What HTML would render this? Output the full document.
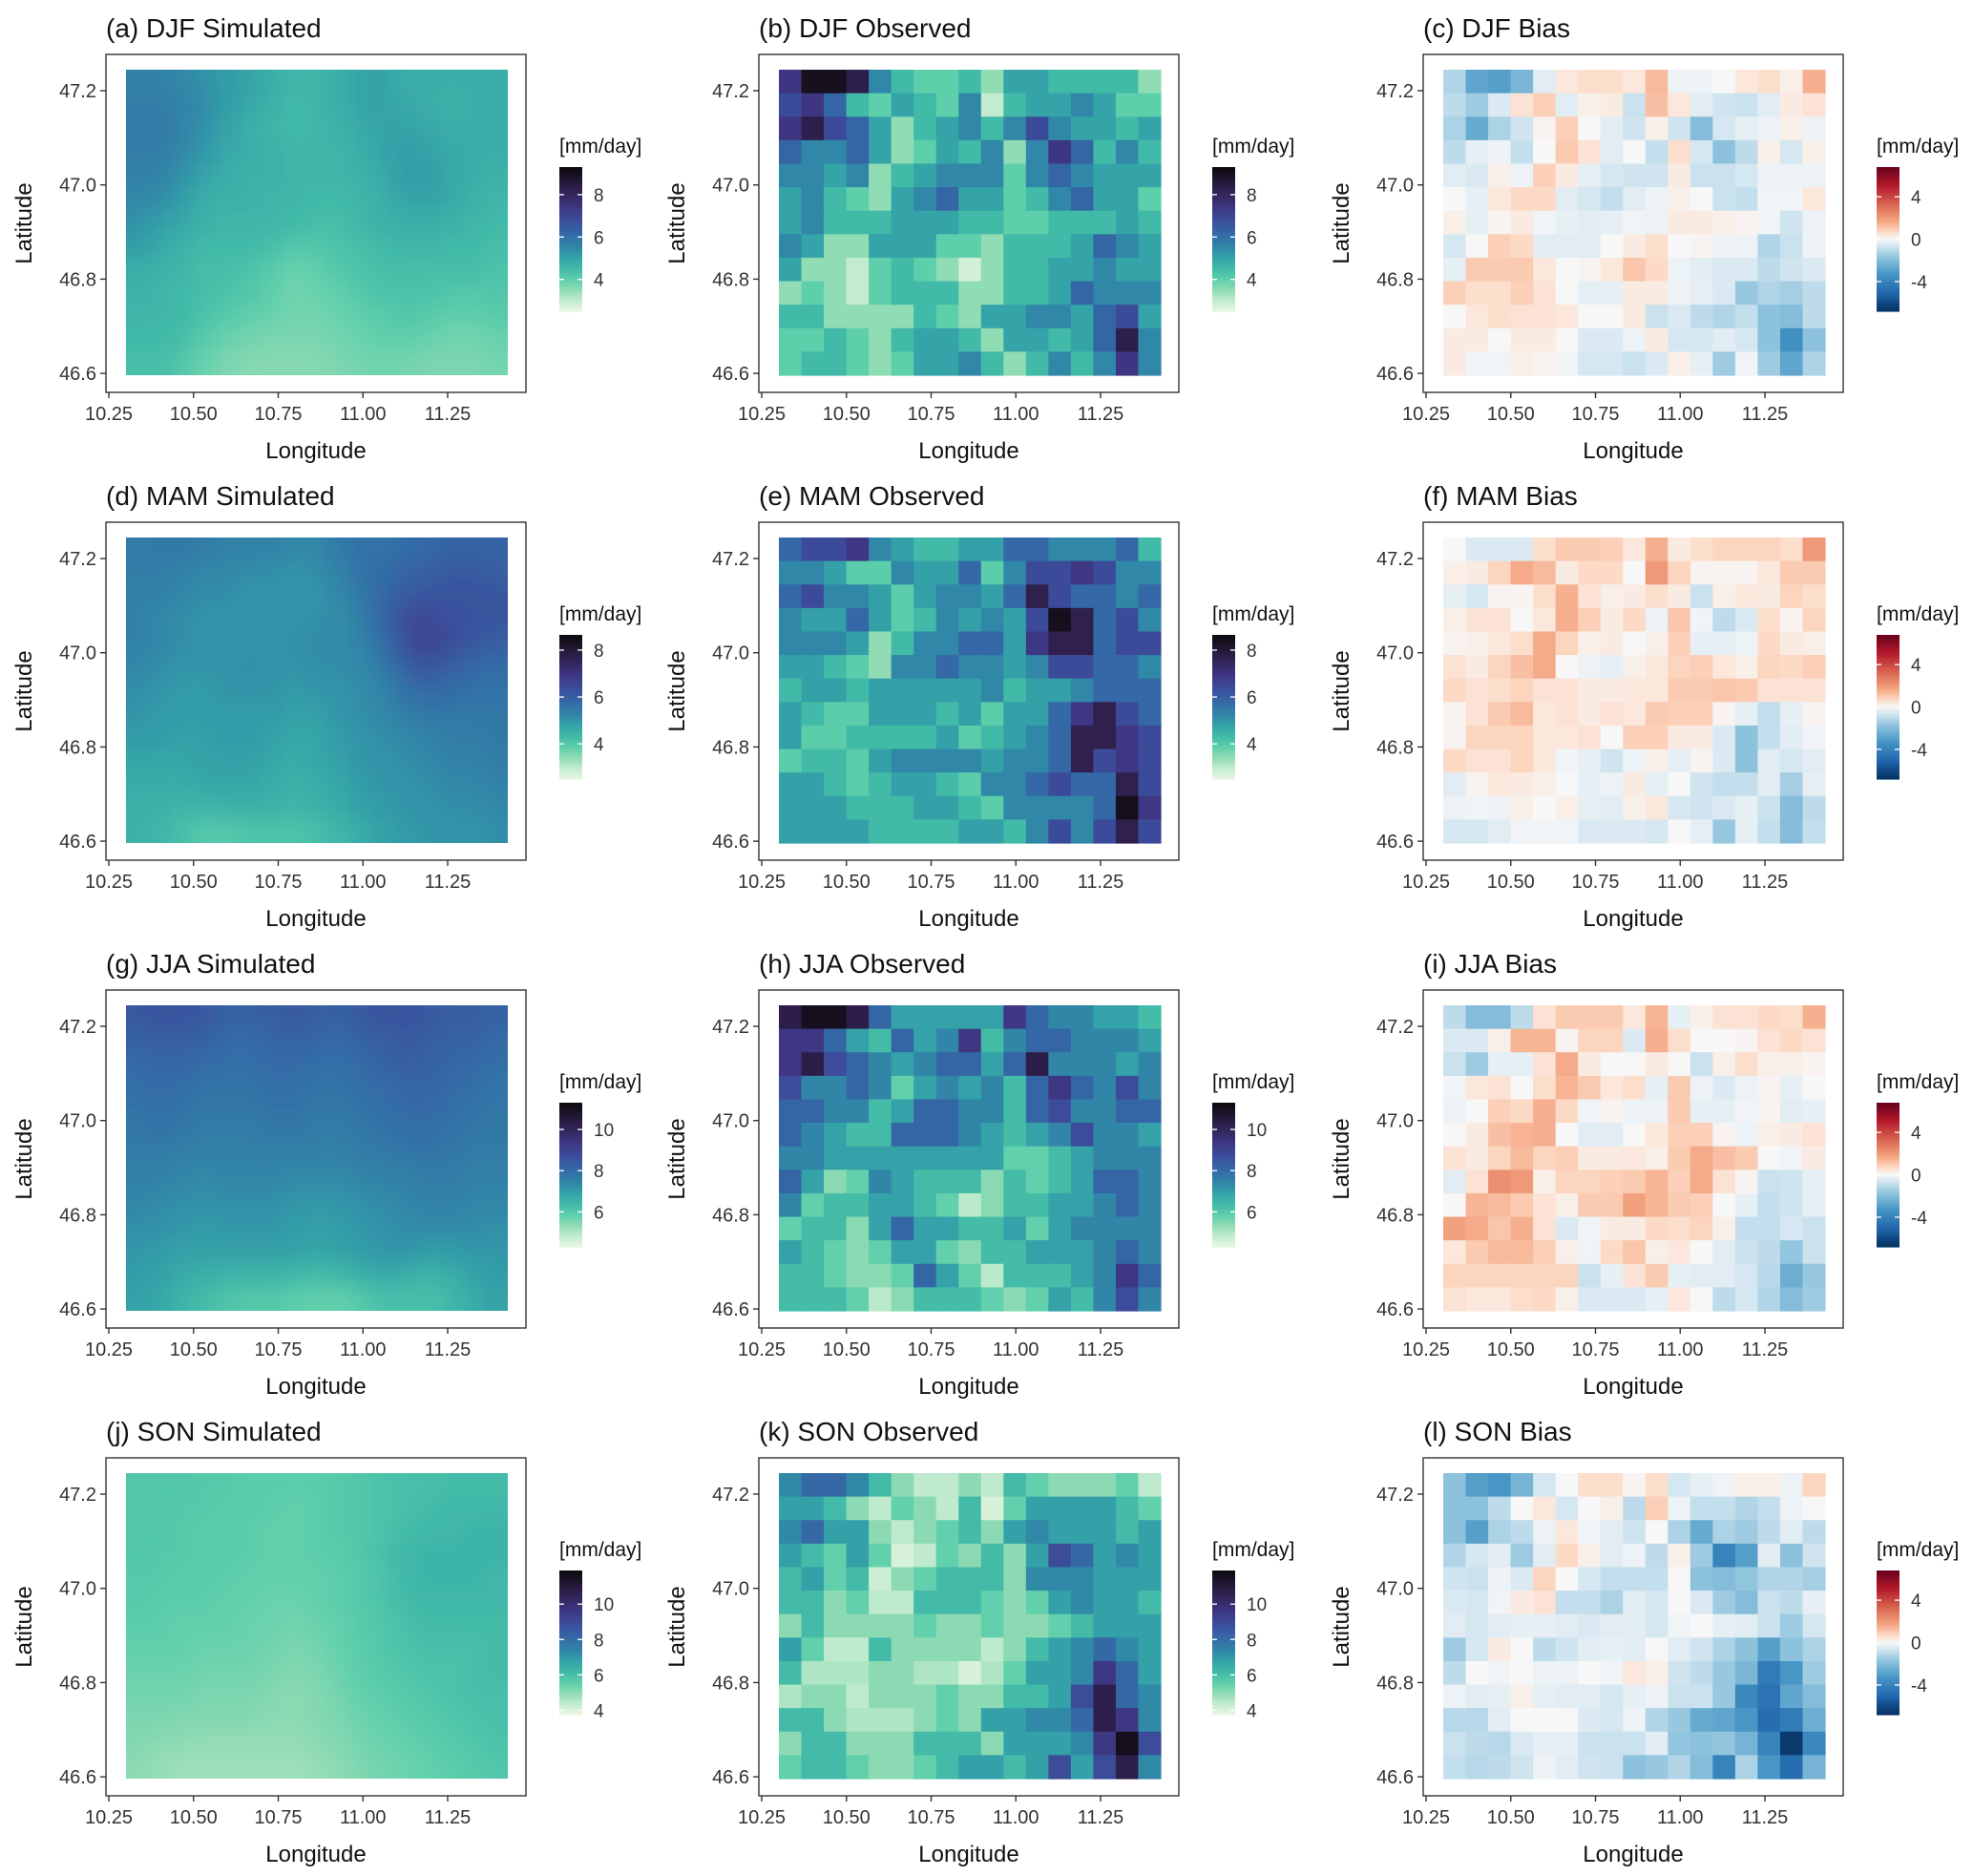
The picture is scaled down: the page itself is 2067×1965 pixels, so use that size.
<!DOCTYPE html>
<html><head><meta charset="utf-8">
<style>
html,body{margin:0;padding:0;background:#fff;}
svg{display:block;font-family:"Liberation Sans",Arial,sans-serif;}
</style></head>
<body>
<svg id="fig" width="2067" height="1965" viewBox="0 0 2067 1965" xmlns="http://www.w3.org/2000/svg">
<defs>
<filter id="smooth" x="-0.1" y="-0.1" width="1.2" height="1.2" filterUnits="objectBoundingBox"><feGaussianBlur stdDeviation="10"/></filter>
</defs>
</svg>
<script>
// ---------- data (mm/day), rows north->south, 17 columns west->east ----------
const lonTicks = [10.25, 10.50, 10.75, 11.00, 11.25];
const latTicks = [47.2, 47.0, 46.8, 46.6];
const seasons = ["DJF", "MAM", "JJA", "SON"];
const seqRanges = [[2.5, 9.3], [2.5, 8.65], [4.3, 11.3], [3.75, 11.9]];
const seqLegendTicks = [[4, 6, 8], [4, 6, 8], [6, 8, 10], [4, 6, 8, 10]];
const biasRange = [-6.8, 6.8];
const biasLegendTicks = [-4, 0, 4];
const panelLetters = [["a","b","c"],["d","e","f"],["g","h","i"],["j","k","l"]];

const simDJF = [
[5.6,5.6,5.5,5.3,5.1,5.0,4.8,4.6,4.6,4.8,5.0,5.0,4.8,4.8,4.8,4.8,4.8],
[5.7,5.7,5.6,5.4,5.1,4.9,4.7,4.5,4.6,4.8,5.0,5.0,4.9,4.8,4.7,4.8,4.8],
[5.8,5.8,5.6,5.3,5.0,4.8,4.6,4.5,4.6,4.7,4.9,5.0,5.0,4.9,4.8,4.8,4.8],
[5.7,5.7,5.5,5.2,4.9,4.8,4.7,4.6,4.6,4.6,4.8,5.0,5.1,5.0,4.9,4.8,4.8],
[5.6,5.6,5.3,5.0,4.8,4.7,4.7,4.6,4.6,4.6,4.7,4.9,5.1,5.1,4.9,4.8,4.7],
[5.5,5.4,5.1,4.8,4.7,4.7,4.6,4.6,4.5,4.5,4.6,4.8,5.0,5.0,4.9,4.7,4.6],
[5.3,5.1,4.9,4.7,4.6,4.6,4.6,4.5,4.4,4.4,4.6,4.7,4.8,4.8,4.7,4.6,4.5],
[5.1,4.9,4.7,4.5,4.5,4.5,4.4,4.2,4.2,4.3,4.4,4.5,4.6,4.6,4.5,4.5,4.4],
[4.8,4.7,4.6,4.4,4.4,4.3,4.1,3.9,4.0,4.2,4.3,4.4,4.4,4.4,4.4,4.4,4.3],
[4.7,4.6,4.5,4.4,4.3,4.2,4.0,3.8,3.9,4.0,4.2,4.3,4.3,4.3,4.2,4.2,4.2],
[4.6,4.6,4.5,4.3,4.1,4.0,3.9,3.8,3.8,3.9,4.0,4.1,4.2,4.1,4.0,4.0,4.1],
[4.5,4.5,4.4,4.1,3.9,3.8,3.7,3.7,3.7,3.8,3.9,4.0,4.0,3.9,3.8,3.8,3.9],
[4.4,4.4,4.2,3.9,3.7,3.6,3.6,3.6,3.6,3.7,3.8,3.8,3.8,3.7,3.7,3.7,3.8]];
const simMAM = [
[5.4,5.5,5.5,5.4,5.3,5.3,5.3,5.2,5.2,5.5,5.6,5.6,5.7,5.8,5.9,5.9,5.9],
[5.4,5.4,5.3,5.2,5.2,5.1,5.1,5.0,5.1,5.3,5.6,5.7,5.9,6.0,6.1,6.1,6.0],
[5.3,5.3,5.2,5.1,5.1,5.0,5.0,5.0,5.0,5.2,5.5,5.8,6.1,6.2,6.2,6.2,6.2],
[5.3,5.2,5.1,5.0,5.0,5.0,5.0,5.0,5.1,5.1,5.4,5.9,6.4,6.5,6.3,6.2,6.2],
[5.3,5.2,5.1,5.0,5.0,5.0,5.0,5.1,5.1,5.1,5.3,5.7,6.3,6.6,6.3,6.1,6.0],
[5.2,5.1,5.0,5.0,5.0,5.1,5.0,5.0,5.1,5.1,5.2,5.5,6.0,6.2,6.0,5.8,5.7],
[5.1,5.0,4.9,4.9,5.0,5.0,5.0,4.9,5.0,5.0,5.1,5.3,5.6,5.8,5.7,5.6,5.6],
[5.0,4.9,4.9,4.9,4.9,4.9,4.9,4.8,4.8,5.0,5.1,5.2,5.4,5.5,5.5,5.5,5.5],
[4.9,4.9,4.8,4.8,4.9,4.9,4.8,4.7,4.7,4.9,5.0,5.1,5.2,5.3,5.4,5.4,5.5],
[4.7,4.7,4.7,4.8,4.8,4.8,4.7,4.6,4.7,4.8,5.0,5.0,5.1,5.2,5.3,5.3,5.4],
[4.6,4.6,4.6,4.7,4.7,4.7,4.6,4.5,4.6,4.7,4.9,5.0,5.0,5.1,5.2,5.2,5.3],
[4.5,4.5,4.4,4.4,4.5,4.5,4.5,4.4,4.5,4.6,4.8,4.9,5.0,5.0,5.1,5.1,5.2],
[4.5,4.4,4.2,4.0,4.0,4.1,4.1,4.1,4.2,4.4,4.6,4.8,4.9,5.0,5.0,5.0,5.1]];
const simJJA = [
[8.4,8.5,8.5,8.4,8.2,8.2,8.3,8.4,8.3,8.2,8.4,8.5,8.5,8.4,8.3,8.3,8.2],
[8.2,8.3,8.3,8.2,8.0,8.0,8.1,8.2,8.1,8.0,8.2,8.3,8.4,8.3,8.2,8.2,8.0],
[8.0,8.1,8.1,8.0,7.9,7.9,8.0,8.0,7.9,7.9,8.0,8.2,8.3,8.2,8.1,8.0,7.9],
[7.9,8.0,7.9,7.8,7.8,7.8,7.9,7.9,7.8,7.8,7.9,8.0,8.1,8.1,8.0,7.9,7.8],
[7.8,7.9,7.8,7.7,7.7,7.7,7.8,7.8,7.7,7.7,7.8,7.9,8.0,8.0,7.9,7.8,7.7],
[7.7,7.8,7.7,7.6,7.6,7.6,7.7,7.7,7.6,7.6,7.7,7.8,7.9,7.9,7.8,7.7,7.7],
[7.6,7.6,7.5,7.5,7.5,7.5,7.5,7.5,7.5,7.5,7.6,7.6,7.7,7.7,7.7,7.6,7.6],
[7.5,7.5,7.4,7.3,7.4,7.4,7.4,7.3,7.3,7.3,7.4,7.5,7.5,7.6,7.6,7.5,7.5],
[7.4,7.3,7.2,7.2,7.2,7.2,7.2,7.1,7.1,7.1,7.2,7.3,7.4,7.5,7.5,7.4,7.4],
[7.2,7.2,7.1,7.0,7.1,7.1,7.1,7.0,6.9,7.0,7.1,7.2,7.3,7.3,7.3,7.3,7.2],
[7.1,7.0,6.9,6.9,6.9,6.9,6.9,6.9,6.8,6.9,7.0,7.1,7.1,7.0,7.0,7.1,7.1],
[7.0,6.9,6.7,6.6,6.5,6.5,6.5,6.4,6.3,6.4,6.6,6.7,6.6,6.5,6.6,6.9,7.0],
[6.9,6.8,6.5,6.3,6.1,6.0,6.0,5.9,5.8,5.8,6.0,6.2,6.2,6.2,6.4,6.7,6.9]];
const simSON = [
[5.8,5.8,5.8,5.7,5.7,5.6,5.6,5.6,5.6,5.7,5.8,5.9,6.0,6.0,6.1,6.1,6.1],
[5.8,5.8,5.7,5.7,5.6,5.6,5.6,5.5,5.6,5.7,5.8,5.9,6.0,6.1,6.2,6.2,6.2],
[5.8,5.8,5.7,5.6,5.6,5.6,5.5,5.5,5.6,5.7,5.8,5.9,6.1,6.2,6.2,6.3,6.3],
[5.8,5.7,5.7,5.6,5.6,5.6,5.5,5.5,5.6,5.6,5.8,6.0,6.2,6.3,6.3,6.3,6.3],
[5.7,5.7,5.6,5.6,5.6,5.5,5.5,5.5,5.5,5.6,5.7,5.9,6.2,6.3,6.3,6.3,6.2],
[5.7,5.6,5.6,5.6,5.5,5.5,5.4,5.4,5.5,5.6,5.7,5.9,6.1,6.2,6.2,6.2,6.2],
[5.6,5.6,5.5,5.5,5.5,5.4,5.4,5.3,5.4,5.5,5.7,5.8,6.0,6.1,6.1,6.1,6.1],
[5.5,5.5,5.5,5.4,5.4,5.4,5.3,5.2,5.3,5.5,5.6,5.8,5.9,6.0,6.0,6.0,6.1],
[5.4,5.4,5.4,5.3,5.3,5.3,5.2,5.1,5.2,5.4,5.6,5.7,5.8,5.9,5.9,6.0,6.1],
[5.3,5.3,5.3,5.2,5.2,5.2,5.1,5.0,5.1,5.3,5.5,5.6,5.7,5.8,5.9,6.0,6.0],
[5.2,5.2,5.1,5.1,5.1,5.1,5.0,5.0,5.1,5.2,5.4,5.5,5.6,5.7,5.8,5.9,6.0],
[5.1,5.0,5.0,4.9,4.9,4.9,4.9,4.9,5.0,5.1,5.3,5.4,5.5,5.6,5.7,5.8,5.9],
[5.0,4.9,4.8,4.8,4.8,4.8,4.8,4.8,4.9,5.0,5.2,5.3,5.4,5.5,5.6,5.7,5.8]];

const obsDJF = [
[7.4,9.0,9.0,8.3,5.5,4.5,4.0,4.0,4.5,3.5,5.0,5.0,4.5,4.5,4.5,4.5,3.5],
[6.8,7.4,6.2,4.5,4.0,5.0,4.5,4.0,5.5,3.0,4.5,5.0,5.0,5.5,5.0,4.0,4.0],
[7.4,8.3,6.8,6.2,5.0,3.5,4.5,5.0,5.5,4.5,5.5,6.8,5.5,5.0,5.0,4.5,5.0],
[6.2,5.5,5.5,6.2,5.0,3.5,4.0,5.0,4.5,5.5,3.5,5.5,7.4,6.2,4.5,5.5,4.5],
[5.5,5.5,5.0,5.5,3.5,4.5,5.0,5.5,5.5,5.5,4.0,5.5,6.2,5.5,5.0,5.0,5.0],
[5.0,5.5,4.5,4.0,3.5,5.0,5.5,6.2,5.0,5.0,4.0,4.5,5.5,6.2,5.0,5.0,4.0],
[5.0,5.5,4.5,4.5,4.5,5.0,5.0,5.0,4.5,4.5,4.0,4.0,4.5,4.5,4.5,5.0,4.5],
[5.5,5.0,3.5,3.5,5.0,5.0,5.0,4.0,4.0,3.5,4.5,4.5,4.5,5.0,6.2,5.5,5.0],
[5.0,3.5,3.5,3.0,4.0,4.5,4.0,3.5,2.8,3.5,4.5,4.5,5.0,5.0,5.5,5.0,5.0],
[3.5,4.0,3.5,3.0,4.0,4.5,4.5,4.5,3.5,3.5,4.5,4.5,5.0,6.2,5.5,5.5,5.5],
[4.5,4.5,3.5,3.5,3.5,3.5,4.5,4.0,3.5,5.0,5.0,5.5,5.5,5.0,6.2,6.8,5.0],
[4.0,4.0,4.5,4.0,3.5,4.5,5.0,5.0,4.5,3.5,5.0,5.0,4.5,5.0,6.2,8.3,5.5],
[4.0,4.5,4.5,4.0,3.5,4.0,5.0,5.0,5.5,4.5,3.5,4.5,5.5,4.5,5.5,7.4,5.5]];
const obsMAM = [
[5.8,6.4,6.4,6.9,5.2,4.8,4.3,4.3,4.8,4.8,5.8,5.8,5.2,5.2,5.2,5.8,4.3],
[5.2,5.2,4.8,3.9,3.9,5.2,4.8,4.8,5.8,3.9,5.2,6.4,6.4,6.9,6.4,5.2,5.2],
[5.8,6.4,5.2,5.2,4.8,3.9,4.8,5.2,5.2,4.8,5.8,7.7,6.4,5.8,5.8,5.2,5.8],
[5.2,4.8,4.8,5.8,4.8,3.9,4.3,5.2,4.8,5.2,4.8,6.4,8.4,7.7,5.8,6.4,5.2],
[5.2,5.2,5.2,4.8,3.4,4.3,5.2,5.2,5.8,5.8,4.8,6.9,7.7,7.7,5.8,6.4,6.4],
[4.8,4.8,4.3,3.9,3.4,5.2,5.2,5.8,5.2,5.2,4.8,5.2,6.4,6.4,5.8,5.8,5.2],
[4.3,4.8,4.8,4.3,4.8,4.8,4.8,4.8,4.8,5.2,4.3,4.8,4.8,5.2,5.8,5.8,5.8],
[4.8,4.3,3.9,3.9,4.8,4.8,4.8,4.3,4.8,3.9,4.8,4.8,5.8,6.9,7.7,6.4,5.8],
[4.8,3.9,3.9,4.3,4.3,4.3,4.3,4.8,3.9,4.3,4.8,5.2,5.8,7.7,7.7,6.9,6.4],
[3.9,4.3,4.3,3.9,4.8,5.2,5.2,5.2,5.2,4.8,5.2,5.2,5.8,7.7,6.4,6.9,6.4],
[4.8,4.8,4.3,3.9,4.3,4.8,4.8,4.3,3.9,5.2,5.2,5.8,6.4,5.8,5.8,7.7,6.4],
[4.8,4.8,4.8,4.3,4.3,4.3,4.8,4.8,4.3,3.9,5.2,5.2,5.2,5.2,5.8,8.4,6.9],
[4.8,4.8,4.8,4.8,4.3,4.3,4.3,4.3,4.8,4.8,4.3,5.2,6.4,5.2,6.4,7.7,6.4]];
const obsJJA = [
[10.3,11.0,11.0,10.3,8.1,6.9,6.9,6.9,6.9,6.9,9.3,8.1,7.4,7.4,6.9,6.9,6.3],
[9.3,9.3,8.1,6.9,6.3,8.1,6.9,7.4,9.3,6.3,7.4,8.1,8.1,7.4,7.4,7.4,6.9],
[9.3,10.3,8.7,8.1,7.4,6.9,7.4,8.1,8.1,6.9,8.1,10.3,7.4,7.4,7.4,6.9,7.4],
[8.7,7.4,7.4,8.1,7.4,5.8,6.9,7.4,6.9,7.4,6.3,8.1,9.3,8.1,7.4,8.7,7.4],
[8.1,8.1,7.4,7.4,6.3,6.9,8.1,8.1,7.4,7.4,6.3,8.1,8.7,7.4,7.4,8.1,8.1],
[8.1,7.4,6.9,6.3,6.3,8.1,8.1,8.1,7.4,6.9,6.3,6.9,7.4,8.7,7.4,7.4,6.9],
[7.4,7.4,6.9,6.9,6.9,6.9,6.9,6.9,6.9,6.9,5.8,5.8,6.3,6.9,7.4,7.4,7.4],
[8.1,6.9,5.4,5.8,7.4,6.9,6.3,6.3,6.3,5.4,6.3,5.8,6.3,6.9,8.1,8.1,7.4],
[7.4,5.8,6.3,6.3,6.9,6.9,6.3,5.8,4.9,5.4,6.3,6.3,6.9,6.9,7.4,8.1,7.4],
[5.8,6.3,6.3,5.4,6.9,8.1,6.9,6.9,6.3,6.3,6.9,5.8,6.9,7.4,7.4,7.4,7.4],
[6.9,6.3,5.8,5.4,5.8,6.9,6.9,5.8,5.4,6.3,6.3,6.9,6.9,6.9,7.4,8.1,7.4],
[6.3,6.3,5.8,5.4,5.4,5.8,8.1,6.9,5.8,4.9,6.3,6.3,6.3,6.9,7.4,9.3,8.1],
[6.3,6.3,6.3,5.8,4.9,5.4,6.3,6.3,6.3,5.8,5.4,5.8,6.9,6.3,7.4,8.7,7.4]];
const obsSON = [
[7.3,8.1,8.1,7.3,6.1,5.0,4.4,4.4,5.0,4.4,6.1,5.5,5.0,5.0,5.0,5.5,4.4],
[6.8,6.8,6.1,5.0,4.4,5.5,5.0,4.4,6.1,4.0,5.5,6.8,6.8,6.8,6.8,6.1,5.5],
[7.3,8.1,6.8,6.8,5.0,4.4,5.0,5.5,6.1,5.0,6.8,7.3,6.8,6.8,6.8,6.1,6.8],
[6.8,6.1,5.5,6.8,5.5,4.0,4.4,5.5,5.0,6.1,5.0,6.8,8.9,8.1,6.8,7.3,6.8],
[6.1,6.8,5.5,6.1,4.2,5.0,5.5,6.1,6.1,6.1,5.0,7.3,7.3,7.3,6.8,6.8,6.8],
[6.1,6.1,5.0,5.5,4.4,4.4,6.1,6.1,6.1,5.5,5.0,5.5,6.8,7.3,6.8,6.8,6.1],
[5.0,6.1,5.0,5.0,5.0,5.0,5.5,5.0,5.0,5.5,5.0,5.0,5.5,6.1,6.8,6.8,6.8],
[6.8,5.5,4.4,4.4,6.1,5.0,5.0,5.0,5.0,4.4,5.0,6.1,6.8,7.3,8.1,7.3,6.8],
[6.1,4.6,4.6,4.6,5.0,5.0,4.6,4.6,4.0,4.6,5.5,6.8,6.8,7.3,9.6,8.1,6.8],
[4.6,5.0,5.0,4.4,5.0,5.0,5.0,5.5,5.0,5.0,6.1,6.1,6.8,8.9,10.7,8.1,7.3],
[6.1,6.1,5.0,4.6,4.6,4.6,5.0,5.5,5.0,6.8,6.8,7.3,7.3,8.1,10.7,9.6,7.3],
[5.0,6.1,6.1,5.0,5.0,5.0,6.1,6.1,6.1,5.0,6.8,6.8,6.8,7.3,9.6,11.6,8.9],
[5.5,6.1,6.1,5.5,5.0,5.0,5.5,6.1,6.8,6.8,6.1,6.8,8.9,6.8,8.9,10.7,7.3]];

const biasDJF = [
[-1.2,-2.8,-3,-2.2,-0.4,0.4,0.6,0.6,0.4,1.3,-0.2,-0.2,0,0.4,0.6,0.2,1.5],
[-1,-1.5,-0.5,0.5,0.9,-0.4,0.2,0.3,-0.8,1.2,0.4,-0.4,-0.7,-0.8,-0.4,0.3,0.5],
[-1.3,-2.6,-1.3,-0.7,0.1,0.9,0,-0.4,-0.7,0.2,-0.7,-2,-0.6,-0.3,-0.2,0.2,-0.2],
[-1,-0.3,-0.2,-0.9,0,1,0.5,-0.4,0,-0.9,0.6,-0.6,-1.8,-1,0.2,-0.6,0.2],
[-0.4,-0.5,0.2,-0.2,0.9,0.3,-0.3,-0.6,-0.7,-0.7,0.3,-0.8,-0.8,-0.6,-0.2,-0.2,-0.2],
[0,-0.3,0.4,0.7,0.7,-0.4,-0.6,-0.9,-0.4,-0.2,0.2,0,-0.8,-0.9,-0.1,-0.1,0.4],
[0.2,-0.3,0.1,0.3,-0.1,-0.3,-0.4,-0.3,-0.1,-0.2,0.3,0.3,0.2,0.1,-0.1,-0.7,-0.2],
[-0.6,0,0.9,0.7,-0.4,-0.4,-0.4,0,0.3,0.6,0,0.1,-0.2,-0.2,-1.2,-0.8,-0.2],
[-0.3,1,1,1,0.4,0,0.1,0.4,1.1,0.7,-0.2,-0.4,-0.5,-0.5,-1,-0.7,-0.5],
[0.9,0.6,0.6,0.9,0.5,0,-0.3,-0.3,0.3,0.3,-0.2,-0.3,-0.5,-1.6,-1.2,-1.4,-1],
[0,0.4,0.6,0.5,0.5,0.4,0,0,0.3,-0.8,-0.5,-1,-1.2,-0.9,-1.8,-2,-1],
[0.3,0.3,0,0.3,0.3,0,-0.5,-0.5,-0.2,0.3,-0.6,-0.6,-0.4,-0.6,-1.8,-3.5,-1.8],
[0.3,-0.1,-0.1,0.2,0.1,-0.1,-0.6,-0.6,-0.8,-0.5,0.2,-0.3,-1.5,-0.1,-1.5,-2.8,-1.3]];
const biasMAM = [
[0,-0.5,-0.5,-0.5,0.6,1,1,0.9,0.4,1.5,0.3,0.6,0.8,0.8,0.8,0.6,2],
[0.2,0.3,0.8,1.6,1.3,0.3,0.7,0.7,0,2,0.8,0.1,0.1,0.1,0.4,1,1],
[-0.3,-0.6,0.1,0.1,0.6,1.5,0.5,0.2,0.3,0.6,0.3,-0.8,0.2,0.4,0.3,0.8,0.6],
[0.2,0.5,0.5,0,0.4,1.5,0.9,0.3,0.7,-0.2,1.1,-0.1,-1,-0.5,0.6,0.1,0.8],
[0.1,0.2,0.4,0.6,1.6,0.8,0.2,0.3,0,0.2,0.9,-0.3,-0.3,-0.2,0.7,0.3,0.2],
[0.5,0.3,0.8,1.2,1.6,0,-0.2,-0.3,0.2,0.4,0.8,0.9,0.4,0.2,0.8,0.7,0.9],
[0.7,0.5,0.6,0.8,0.5,0.5,0.3,0.3,0.4,0.4,1,1,1.1,1,0.5,0.5,0.5],
[0.1,0.5,1,1.3,0.4,0.5,0.3,0.5,0.4,1,0.9,0.9,0.1,-0.3,-0.9,-0.3,0.1],
[0.1,0.8,0.8,0.8,0.4,0.4,0.5,0,0.9,0.9,0.3,0.3,-0.5,-1.8,-0.9,-0.4,-0.1],
[0.7,0.5,0.5,0.8,0.4,-0.1,-0.3,-0.7,-0.2,0.2,-0.3,0.1,-0.5,-1.8,-0.4,-0.6,-0.4],
[-0.4,0.1,0.4,0.3,0.2,0,-0.3,-0.2,0.3,-0.3,0,-0.7,-0.9,-0.9,-0.4,-1.4,-0.3],
[-0.2,-0.1,-0.2,0.2,0,0.2,-0.3,-0.4,0.2,0.4,-0.6,-0.7,-0.5,-0.3,-0.8,-2,-1],
[-0.6,-0.6,-0.4,-0.1,-0.1,-0.1,-0.5,-0.5,-0.5,-0.6,0,-0.3,-1.6,-0.3,-0.9,-2,-0.9]];
const biasJJA = [
[-1,-2,-2,-1,0.5,1,1,1,0.4,1.4,-0.3,0.2,0.5,0.5,0.7,0.6,1.5],
[-0.5,-0.5,0.2,1.4,1.4,0.1,0.8,0.8,-0.5,1.5,0.6,0,0,0.1,0.5,0.7,0.5],
[-0.8,-1.5,-0.3,-0.3,0.5,1.6,0.3,0,0,0.3,0,-0.8,0.2,0.6,0.2,0.2,0.1],
[-0.1,0.4,0.5,0,0.6,1.4,1,0.4,0.6,-0.3,1,-0.2,-0.5,-0.2,0.1,-0.3,0],
[-0.2,0,0.9,0.7,1.5,0.7,-0.1,0.1,-0.2,-0.2,1,-0.3,-0.3,-0.1,0.1,-0.4,-0.3],
[0,0.3,1.2,1.4,1.5,0,-0.4,-0.4,0,0.4,0.9,0.9,0.1,-0.2,0.2,0.3,0.5],
[0.5,0.3,0.8,1.3,0.8,0.9,0.3,0.3,0.4,0.2,1,1.6,1.2,1,0,-0.1,0.3],
[-0.4,0.5,2.2,2,0.2,0.8,0.8,0.9,1,1.4,0.9,1.6,0.5,0.1,-0.8,-0.7,-0.3],
[0,1.4,1.3,1,0.5,0.2,1,1,1.8,1.4,1,0.9,0,-0.3,-0.9,-0.7,-0.3],
[1.8,1.6,1.1,1.5,0.5,-0.5,-0.1,0.3,0.3,0.7,0.6,0.8,0.2,-0.9,-0.9,-0.6,-0.8],
[0.4,1,1.3,1.3,0.9,0.2,-0.1,0.7,1.1,0.2,0.4,0,-0.4,-0.8,-1,-1.7,-0.8],
[0.8,0.8,0.8,0.8,0.8,0.8,-0.8,-0.3,0.5,1,-0.3,-0.4,-0.4,-0.6,-1.1,-2.5,-1.6],
[0.5,0.4,0.4,0.6,0.7,0.2,-0.5,-0.5,-0.5,-0.3,0.4,0,-1,-0.6,-1.2,-2,-1.5]];
const biasSON = [
[-1.8,-3,-3.3,-2.3,-0.6,0,0.6,0.6,0.1,0.6,-0.6,-0.3,-0.1,0.2,0.2,-0.2,0.8],
[-1.8,-1.8,-1,0,0.4,-0.6,0,0.2,-1,0.9,-0.2,-0.9,-0.9,-1.2,-0.9,-0.2,0],
[-1.8,-3,-1.3,-1,-0.2,0.4,-0.1,-0.4,-0.7,0,-1.3,-2.6,-1.3,-1.5,-1,-0.4,-1],
[-1.2,-0.6,-0.4,-1.5,-0.4,0.7,0.2,-0.4,-0.2,-1,0.2,-1.5,-4,-3,-0.4,-1.8,-0.7],
[-0.7,-0.8,-0.2,-0.5,0.8,0,-0.6,-0.9,-0.9,-0.9,0,-1.8,-2,-1.7,-1.2,-1.2,-1.4],
[-0.5,-0.6,-0.1,0.3,0.5,-0.9,-0.9,-1.3,-0.4,-0.6,0,-0.5,-1.5,-2,-0.8,-1,-0.3],
[-0.4,-0.6,-0.4,-0.3,-0.3,-0.4,-0.5,-0.4,-0.4,-0.6,-0.1,0,-0.3,-0.4,-0.8,-1.5,-0.6],
[-1.5,-0.6,0.3,0,-1,-0.7,-0.4,-0.3,-0.4,0,-0.4,-0.7,-1.3,-1.8,-3,-1.8,-1.3],
[-1,0,-0.1,0,-0.2,-0.2,0,-0.1,0.4,0.2,-0.7,-1,-1.6,-2.2,-4.3,-3.3,-1.5],
[-0.2,-0.4,-0.3,0.2,-0.3,-0.4,-0.4,-0.6,-0.3,-0.2,-0.8,-0.8,-1.6,-3.8,-4.6,-2.8,-2],
[-1.1,-1.1,-0.4,0,0,0,-0.5,-0.6,-0.2,-1.2,-1.6,-2.6,-2.8,-3.3,-4.8,-4.3,-2.5],
[-0.8,-1,-1.1,-0.5,-0.3,-0.3,-0.8,-0.8,-0.8,-0.4,-1.7,-1.8,-1.7,-2.3,-4,-6.5,-3.8],
[-0.9,-1.1,-1,-0.7,-0.2,-0.4,-0.7,-0.8,-1.8,-1.6,-1.2,-2,-4,-1.3,-3.3,-4.8,-2.3]];

const simData = [simDJF, simMAM, simJJA, simSON];
const obsData = [obsDJF, obsMAM, obsJJA, obsSON];
const biasData = [biasDJF, biasMAM, biasJJA, biasSON];

// ---------- colour scales ----------
const seqStops = [[0,"#e8f7e2"],[0.08,"#bfeacd"],[0.15,"#8edbb3"],[0.22,"#5ecfab"],[0.29,"#42bba8"],[0.37,"#34a3a8"],[0.44,"#3187a8"],[0.54,"#3467a6"],[0.63,"#3c4c9a"],[0.72,"#3e3682"],[0.85,"#2e1f4c"],[0.96,"#160f1c"],[1,"#0d0a10"]];
const divStops = [[0,"#053061"],[0.125,"#2166ac"],[0.25,"#4393c3"],[0.375,"#92c5de"],[0.45,"#d1e5f0"],[0.5,"#f7f7f7"],[0.55,"#fddbc7"],[0.625,"#f4a582"],[0.75,"#d6604d"],[0.875,"#b2182b"],[1,"#67001f"]];
function hex2rgb(h){return [parseInt(h.substr(1,2),16),parseInt(h.substr(3,2),16),parseInt(h.substr(5,2),16)];}
function ramp(stops,t){
  t=Math.max(0,Math.min(1,t));
  for(let i=1;i<stops.length;i++){
    if(t<=stops[i][0]){
      const a=stops[i-1],b=stops[i];const u=(t-a[0])/(b[0]-a[0]);
      const ca=hex2rgb(a[1]),cb=hex2rgb(b[1]);
      return "rgb("+ca.map((c,k)=>Math.round(c+(cb[k]-c)*u)).join(",")+")";
    }
  }
  return stops[stops.length-1][1];
}

// ---------- layout ----------
const NS="http://www.w3.org/2000/svg";
const svg=document.getElementById("fig");
const defs=svg.querySelector("defs");
const colX=[111,795,1491], rowY0=57, rowStep=490, frameW=440, frameH=354;
const gridDX=21, gridDY=16, gridW=400, gridH=320;
let clipId=0;
function mk(tag,attrs,parent){const e=document.createElementNS(NS,tag);for(const k in attrs)e.setAttribute(k,attrs[k]);(parent||svg).appendChild(e);return e;}

function drawPanel(r,c,data,range,stops,kind,title,legendTicks){
  const x0=colX[c], y0=rowY0+r*rowStep;
  const g=mk("g",{});
  
  
  const lonX=lon=>x0+3+(lon-10.25)*355;
  const latY=lat=>y0+38+(47.2-lat)*493.5;
  const fr=mk("rect",{x:x0,y:y0,width:frameW,height:frameH,fill:"#fff",stroke:"#333","stroke-width":1.4},g);
  
  
  const nr=data.length,nc=data[0].length, cw=gridW/nc, ch=gridH/nr;
  const gx=x0+gridDX, gy=y0+gridDY;
  let parent=g;
  if(kind==="sim"){
    const id="clip"+(clipId++);
    const cp=mk("clipPath",{id:id},defs);
    mk("rect",{x:gx,y:gy,width:gridW,height:gridH},cp);
    parent=mk("g",{"clip-path":"url(#"+id+")"},g);
  }
  const cells=mk("g",kind==="sim"?{filter:"url(#smooth)"}:{},parent);
  
  
  const pad=kind==="sim"?30:0;
  for(let i=0;i<nr;i++)for(let j=0;j<nc;j++){
    const v=data[i][j];
    let x=gx+j*cw, y=gy+i*ch, w=cw+0.6, h=ch+0.6;
    if(j===0){x-=pad;w+=pad;} if(j===nc-1){w+=pad;}
    if(i===0){y-=pad;h+=pad;} if(i===nr-1){h+=pad;}
    const rc=mk("rect",{x:x.toFixed(2),y:y.toFixed(2),width:w.toFixed(2),height:h.toFixed(2),fill:ramp(stops,(v-range[0])/(range[1]-range[0]))},cells);
    
    
  }
  lonTicks.forEach(t=>{
    const x=lonX(t);
    mk("line",{x1:x,x2:x,y1:y0+frameH,y2:y0+frameH+6,stroke:"#333","stroke-width":1.4},g);
    const tx=mk("text",{x:x,y:y0+383,"font-size":20,"text-anchor":"middle",fill:"#333"},g);
    tx.textContent=t.toFixed(2);
    
    
  });
  latTicks.forEach(t=>{
    const y=latY(t);
    mk("line",{x1:x0-6,x2:x0,y1:y,y2:y,stroke:"#333","stroke-width":1.4},g);
    const tx=mk("text",{x:x0-10,y:y+7,"font-size":20,"text-anchor":"end",fill:"#333"},g);
    tx.textContent=t.toFixed(1);
    
    
  });
  const xl=mk("text",{x:x0+frameW/2,y:y0+423,"font-size":24,"text-anchor":"middle",fill:"#111"},g);
  xl.textContent="Longitude";
  
  
  const yl=mk("text",{x:0,y:0,"font-size":24,"text-anchor":"middle",fill:"#111",transform:"translate("+(x0-78)+","+(y0+frameH/2)+") rotate(-90)"},g);
  yl.textContent="Latitude";
  
  
  const tt=mk("text",{x:x0,y:y0-18,"font-size":28,fill:"#111"},g);
  tt.textContent=title;
  
  
  const lx=x0+475, ly=y0+118, lw=24, lh=151;
  const lt=mk("text",{x:lx,y:y0+103,"font-size":21,fill:"#111"},g);
  lt.textContent="[mm/day]";
  
  
  const lg=mk("g",{},g);
  
  
  const nSeg=60;
  for(let k=0;k<nSeg;k++){
    const v=range[1]-(k+0.5)*(range[1]-range[0])/nSeg;
    mk("rect",{x:lx,y:(ly+k*lh/nSeg).toFixed(2),width:lw,height:(lh/nSeg+0.6).toFixed(2),fill:ramp(stops,(v-range[0])/(range[1]-range[0]))},lg);
  }
  legendTicks.forEach(t=>{
    const y=ly+(range[1]-t)/(range[1]-range[0])*lh;
    mk("line",{x1:lx,x2:lx+5,y1:y,y2:y,stroke:"#fff","stroke-width":1.3},lg);
    mk("line",{x1:lx+lw-5,x2:lx+lw,y1:y,y2:y,stroke:"#fff","stroke-width":1.3},lg);
    const tx=mk("text",{x:lx+lw+12,y:y+7,"font-size":19,fill:"#333"},g);
    tx.textContent=String(t);
    
    
  });
}

for(let r=0;r<4;r++){
  const L=panelLetters[r];
  drawPanel(r,0,simData[r],seqRanges[r],seqStops,"sim","("+L[0]+") "+seasons[r]+" Simulated",seqLegendTicks[r]);
  drawPanel(r,1,obsData[r],seqRanges[r],seqStops,"obs","("+L[1]+") "+seasons[r]+" Observed",seqLegendTicks[r]);
  drawPanel(r,2,biasData[r],biasRange,divStops,"bias","("+L[2]+") "+seasons[r]+" Bias",biasLegendTicks);
}
</script>
</body></html>
